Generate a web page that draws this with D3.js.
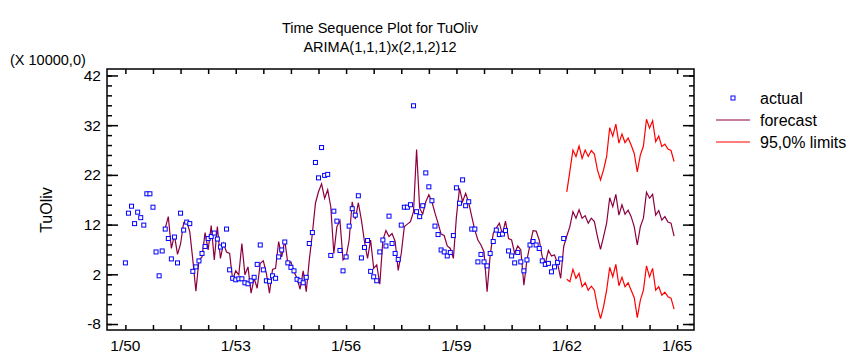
<!DOCTYPE html>
<html>
<head>
<meta charset="utf-8">
<script src="https://cdnjs.cloudflare.com/ajax/libs/d3/7.8.5/d3.min.js"></script>
<style>
  body { margin: 0; background: #fff; }
  text { font-family: "Liberation Sans", Arial, sans-serif; fill: #000; }
</style>
</head>
<body>
<svg width="852" height="354"></svg>
<script>
// month index 0 = 1/50
var tickLabels = ["1/50", "1/53", "1/56", "1/59", "1/62", "1/65"];
var tickMonths = [0, 36, 72, 108, 144, 180];
var yTicks = [-8, 2, 12, 22, 32, 42];

// actual observations, 1/50 .. 12/61 (X 10000)
var actual = [4.3, 14.3, 15.7, 12.2, 14.5, 13.4, 11.9, 18.2, 18.2, 15.5, 6.5, 1.7,
    6.7, 11.1, 9.2, 5.1, 9.5, 4.3, 14.3, 10.9, 12.5, 12.2, 2.6, 3.5,
    4.7, 6.2, 7.6, 9.2, 9.6, 10.3, 9.1, 7.5, 7.9, 11.1, 2.9, 1.2,
    0.9, 1.1, 1.1, 0.3, 0.1, 0.7, 1.4, 4.0, 7.9, 2.9, 0.7, 0.6,
    1.7, 1.2, 5.5, 6.9, 8.5, 4.3, 3.4, 2.7, 1.0, 0.7, 0.3, 1.4,
    8.2, 10.4, 24.5, 21.4, 27.5, 21.9, 22.1, 5.8, 14.7, 12.7, 6.8, 2.7,
    5.5, 11.7, 15.2, 13.9, 17.8, 5.3, 7.4, 8.8, 2.6, 1.5, 0.7, 6.5,
    8.9, 7.7, 13.7, 8.2, 6.2, 5.0, 11.9, 15.5, 15.5, 16.0, 35.9, 14.6,
    13.6, 15.8, 22.4, 19.6, 16.8, 11.7, 10.0, 6.9, 6.5, 5.7, 6.4, 9.8,
    19.4, 16.3, 21.0, 15.8, 16.6, 11.1, 11.1, 4.5, 6.0, 4.5, 3.7, 6.2,
    8.6, 10.9, 10.0, 10.1, 10.8, 6.7, 5.7, 4.3, 6.4, 4.5, 2.7, 4.9,
    7.9, 8.6, 7.9, 7.2, 4.7, 4.0, 4.2, 2.5, 3.5, 4.4, 5.1, 9.2];

// one-step fitted values, from month 13 (2/51) to 12/61
var fittedStart = 13;
var fitted = [11.3, 13.6, 7.2, 9.9, 6.0, 8.1, 12.4, 12.6, 10.6, 4.9, -1.4,
    4.9, 5.5, 10.4, 6.9, 11.8, 4.9, 11.6, 5.2, 8.2, 6.5, 6.2, 0.9,
    2.7, 1.9, 8.2, 1.9, 3.5, -1.8, 1.2, -0.8, 4.2, 4.7, 2.2, -1.8,
    3.0, 3.2, 8.6, 5.5, 8.9, 4.1, 4.5, 2.5, 1.2, -1.0, 2.7, -1.5,
    4.9, 10.2, 16.3, 18.6, 20.2, 17.3, 19.0, 15.6, 6.2, 11.6, 12.8, 4.9,
    5.5, 8.9, 16.6, 13.1, 16.4, 12.9, 8.6, 5.2, 8.9, 3.2, 3.9, 0.0,
    8.9, 10.8, 9.6, 10.2, 8.6, 2.8, 6.2, 11.6, 12.1, 12.6, 14.6, 27.1,
    15.3, 14.1, 16.6, 18.0, 16.6, 14.3, 12.3, 10.1, 9.8, 7.7, 7.2, 5.2,
    13.6, 19.3, 16.6, 18.3, 16.4, 13.6, 10.9, 8.9, 7.9, 6.5, -1.5, 5.8,
    10.2, 11.3, 12.3, 10.1, 12.7, 9.2, 8.9, 6.2, 7.7, 6.9, -0.2, 4.9,
    7.9, 10.8, 10.7, 8.9, 5.5, 4.2, 6.8, 5.7, 5.9, 4.2, 1.2, 7.6];

// forecasts 1/62 .. 12/64 with 95% limits
var forecastStart = 144;
var forecast = [9.7, 11.6, 14.6, 13.3, 15.0, 13.3, 13.8, 12.3, 13.3, 12.6, 9.6, 7.0,
    9.6, 12.3, 17.4, 15.6, 18.1, 13.9, 16.0, 14.1, 14.9, 13.6, 11.6, 7.9,
    11.6, 13.3, 18.5, 17.3, 18.1, 13.9, 14.8, 12.9, 13.6, 12.5, 12.3, 9.7];
var upper = [18.6, 22.7, 27.0, 25.7, 27.8, 25.3, 27.0, 25.7, 26.9, 26.2, 23.0, 21.0,
    23.0, 25.7, 31.5, 29.8, 32.2, 28.4, 30.2, 28.5, 29.4, 28.0, 26.3, 22.6,
    26.0, 27.8, 33.2, 31.4, 32.9, 28.7, 29.8, 27.7, 28.2, 27.2, 26.9, 24.7];
var lower = [1.0, 0.5, 3.0, 1.2, 2.2, -0.5, 0.3, -1.2, -0.4, -1.2, -4.5, -6.9,
    -4.5, -1.2, 3.4, 1.5, 4.0, -0.3, 1.4, -0.5, 0.3, -1.2, -2.7, -6.7,
    -3.2, -1.2, 3.7, 1.5, 3.2, -1.2, -0.5, -2.2, -1.6, -2.5, -2.8, -5.0];

var svg = d3.select("svg"),
    margin = {top: 69, right: 158, bottom: 24, left: 107},
    width = +svg.attr("width") - (margin.left + margin.right),
    height = +svg.attr("height") - (margin.top + margin.bottom);

var fcColor = "#8c0040",
    limColor = "#ff0000",
    ptColor = "#0000ff";

var x = d3.scaleLinear().domain([-6, 185.5]).range([0, width]),
    y = d3.scaleLinear().domain([-9.2, 43.3]).range([height, 0]);

var g = svg.append("g").attr("transform", "translate(" + margin.left + "," + margin.top + ")");

// titles
svg.append("text").attr("x", 380).attr("y", 33).attr("text-anchor", "middle")
    .style("font-size", "14.5px").text("Time Sequence Plot for TuOliv");
svg.append("text").attr("x", 380).attr("y", 52).attr("text-anchor", "middle")
    .style("font-size", "14.5px").text("ARIMA(1,1,1)x(2,1,2)12");
svg.append("text").attr("x", 10).attr("y", 65)
    .style("font-size", "14.5px").text("(X 10000,0)");
svg.append("text")
    .attr("transform", "translate(52,210) rotate(-90)")
    .attr("text-anchor", "middle")
    .style("font-size", "16px").text("TuOliv");

// axes: ticks point inward on all four sides
var yMinor = d3.range(-8, 43, 2);
var xMinor = d3.range(0, 181, 9);

g.append("g").attr("class", "axis axis-left")
    .call(d3.axisRight(y).tickValues(yMinor).tickSize(5).tickFormat(""));
g.append("g").attr("class", "axis axis-left")
    .call(d3.axisRight(y).tickValues(yTicks).tickSize(11).tickFormat(""));
g.append("g").attr("class", "axis axis-right")
    .attr("transform", "translate(" + width + ",0)")
    .call(d3.axisLeft(y).tickValues(yMinor).tickSize(5).tickFormat(""));
g.append("g").attr("class", "axis axis-right")
    .attr("transform", "translate(" + width + ",0)")
    .call(d3.axisLeft(y).tickValues(yTicks).tickSize(11).tickFormat(""));
g.append("g").attr("class", "axis axis-top")
    .call(d3.axisBottom(x).tickValues(xMinor).tickSize(5).tickFormat(""));
g.append("g").attr("class", "axis axis-bottom")
    .attr("transform", "translate(0," + height + ")")
    .call(d3.axisTop(x).tickValues(xMinor).tickSize(5).tickFormat(""));

g.selectAll(".axis path").remove();
g.selectAll(".axis line").attr("stroke", "#000").attr("stroke-width", 1.5);

g.append("rect")
    .attr("width", width).attr("height", height)
    .attr("fill", "none").attr("stroke", "#000").attr("stroke-width", 1.5);

g.selectAll(".ylab")
    .data(yTicks)
    .enter().append("text")
    .attr("x", -6)
    .attr("y", function(d) { return y(d); })
    .attr("dy", "0.35em")
    .attr("text-anchor", "end")
    .style("font-size", "15.5px")
    .text(function(d) { return d; });

g.selectAll(".xlab")
    .data(tickMonths)
    .enter().append("text")
    .attr("x", function(d) { return x(d); })
    .attr("y", height + 21)
    .attr("text-anchor", "middle")
    .style("font-size", "15.5px")
    .text(function(d, i) { return tickLabels[i]; });

// fitted + forecast as one line
var fcSeries = fitted.map(function(v, i) { return {t: fittedStart + i, v: v}; })
    .concat(forecast.map(function(v, i) { return {t: forecastStart + i, v: v}; }));

var line = d3.line()
    .x(function(d) { return x(d.t); })
    .y(function(d) { return y(d.v); });

function series(arr, start) {
    return arr.map(function(v, i) { return {t: start + i, v: v}; });
}

g.append("path").datum(series(upper, forecastStart))
    .attr("d", line).attr("fill", "none").attr("stroke", limColor).attr("stroke-width", 1.2);
g.append("path").datum(series(lower, forecastStart))
    .attr("d", line).attr("fill", "none").attr("stroke", limColor).attr("stroke-width", 1.2);
g.append("path").datum(fcSeries)
    .attr("d", line).attr("fill", "none").attr("stroke", fcColor).attr("stroke-width", 1.2);

g.selectAll(".actual")
    .data(series(actual, 0))
    .enter().append("rect")
    .attr("class", "actual")
    .attr("x", function(d) { return x(d.t) - 2; })
    .attr("y", function(d) { return y(d.v) - 2; })
    .attr("width", 4)
    .attr("height", 4)
    .attr("fill", "#fff")
    .attr("stroke", ptColor)
    .attr("stroke-width", 1);

// legend
var lg = svg.append("g").attr("transform", "translate(716,98)");
lg.append("rect").attr("x", 15).attr("y", -2).attr("width", 4).attr("height", 4)
    .attr("fill", "#fff").attr("stroke", ptColor).attr("stroke-width", 1);
lg.append("line").attr("x1", 0).attr("x2", 34).attr("y1", 22).attr("y2", 22)
    .attr("stroke", fcColor).attr("stroke-width", 1.2);
lg.append("line").attr("x1", 0).attr("x2", 34).attr("y1", 44).attr("y2", 44)
    .attr("stroke", limColor).attr("stroke-width", 1.2);
lg.selectAll(".ltxt")
    .data(["actual", "forecast", "95,0% limits"])
    .enter().append("text")
    .attr("x", 44)
    .attr("y", function(d, i) { return i * 22; })
    .attr("dy", "0.35em")
    .style("font-size", "16px")
    .text(function(d) { return d; });
</script>
</body>
</html>
